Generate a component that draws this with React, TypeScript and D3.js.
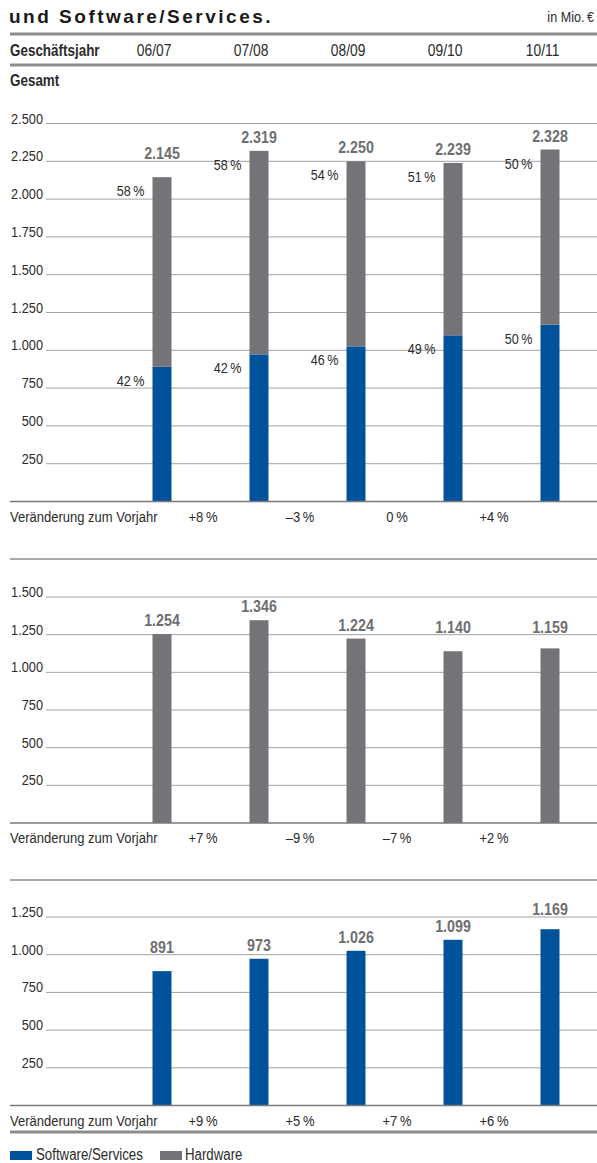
import React from "react";
import * as d3 from "d3";

const years = ["06/07", "07/08", "08/09", "09/10", "10/11"];
const software = [891, 973, 1026, 1099, 1169];
const hardware = [1254, 1346, 1224, 1140, 1159];
const total = [2145, 2319, 2250, 2239, 2328];
const softwarePct = [42, 42, 46, 49, 50];
const hardwarePct = [58, 58, 54, 51, 50];
const changeTotal = ["+8", "–3", "0", "+4"];
const changeHardware = ["+7", "–9", "–7", "+2"];
const changeSoftware = ["+9", "+5", "+7", "+6"];
const ticksTotal = [250, 500, 750, 1000, 1250, 1500, 1750, 2000, 2250, 2500];
const ticksHardware = [250, 500, 750, 1000, 1250, 1500];
const ticksSoftware = [250, 500, 750, 1000, 1250];

const BLUE = "#00529b";
const GREY = "#747378";
const LABEL_GREY = "#6e6e71";
const TEXT = "#2b2b2b";
const GRID = "#a3a3a3";
const RULE = "#8c8c8c";
const SANS = "'Liberation Sans', Arial, sans-serif";
const SQUEEZE = 0.84;

const W = 597;
const H = 1163;
const BAR_W = 19;

const fmt = (v: number) => d3.format(",")(v).replace(/,/g, ".");

const x = d3.scalePoint<string>().domain(years).range([162, 550]);

type NTProps = {
  x: number;
  y: number;
  size: number;
  anchor?: "start" | "middle" | "end";
  bold?: boolean;
  fill?: string;
  children: React.ReactNode;
};

function NText({ x, y, size, anchor = "start", bold = false, fill = TEXT, children }: NTProps) {
  return (
    <text
      transform={`translate(${x},${y}) scale(${SQUEEZE},1)`}
      x={0}
      y={0}
      textAnchor={anchor}
      fontFamily={SANS}
      fontWeight={bold ? "bold" : "normal"}
      fontSize={size}
      fill={fill}
    >
      {children}
    </text>
  );
}

function labelBaseline(barTop: number, gridYs: number[]) {
  let b = barTop - 8;
  for (const g of gridYs) {
    if (g >= b - 11 && g <= b + 1) {
      b = g - 2;
    }
  }
  return b;
}

type PanelProps = {
  top: number;
  base: number;
  max: number;
  ticks: number[];
  segments: { values: number[]; color: string }[];
  totals: number[];
  changes: string[];
  pcts?: { values: number[] }[];
};

function Panel({ top, base, max, ticks, segments, totals, changes, pcts }: PanelProps) {
  const y = d3.scaleLinear().domain([0, max]).range([base, top]);
  const gridYs = ticks.map((t) => y(t));
  return (
    <g>
      {ticks.map((t) => (
        <g key={t}>
          <line x1={46} x2={W} y1={y(t)} y2={y(t)} stroke={GRID} strokeWidth={1} />
          <NText x={43} y={y(t)} size={15.2} anchor="end">
            {fmt(t)}
          </NText>
        </g>
      ))}
      {years.map((yr, i) => {
        let acc = 0;
        return (
          <g key={yr}>
            {segments.map((s, j) => {
              const y0 = y(acc);
              acc += s.values[i];
              const y1 = y(acc);
              return (
                <rect
                  key={j}
                  x={(x(yr) as number) - BAR_W / 2}
                  y={y1}
                  width={BAR_W}
                  height={y0 - y1}
                  fill={s.color}
                />
              );
            })}
          </g>
        );
      })}
      {pcts &&
        years.map((yr, i) => {
          let acc = 0;
          return pcts.map((p, j) => {
            acc += segments[j].values[i];
            const segTop = y(acc);
            return (
              <NText
                key={yr + j}
                x={(x(yr) as number) - BAR_W / 2 - 8}
                y={segTop + 19}
                size={15}
                anchor="end"
              >
                {p.values[i]}
                {"\u2009%"}
              </NText>
            );
          });
        })}
      {years.map((yr, i) => (
        <NText
          key={"t" + yr}
          x={x(yr) as number}
          y={labelBaseline(y(totals[i]), gridYs)}
          size={17}
          anchor="middle"
          bold
          fill={LABEL_GREY}
        >
          {fmt(totals[i])}
        </NText>
      ))}
      <line x1={10} x2={W} y1={base} y2={base} stroke="#7a7a7a" strokeWidth={1.5} />
      <NText x={10} y={base + 20} size={15.5}>
        Veränderung zum Vorjahr
      </NText>
      {changes.map((c, i) => (
        <NText key={"c" + i} x={(x(years[i]) as number) + 41} y={base + 20} size={15.5} anchor="middle">
          {c}
          {"\u2009%"}
        </NText>
      ))}
    </g>
  );
}

export default function App() {
  return (
    <svg
      width={W}
      height={H}
      viewBox={`0 0 ${W} ${H}`}
      style={{ position: "absolute", left: 0, top: 0, background: "#fff" }}
    >
      <rect x={0} y={0} width={W} height={H} fill="#fff" />
      <text x={9} y={23} fontFamily={SANS} fontWeight="bold" fontSize={19} letterSpacing={2.5} fill="#1a1a1a">
        und Software/Services.
      </text>
      <NText x={594} y={22} size={15} anchor="end">
        in Mio.{"\u2009"}€
      </NText>
      <line x1={10} x2={W} y1={34} y2={34} stroke={RULE} strokeWidth={3} />
      <NText x={10} y={56} size={16} bold>
        Geschäftsjahr
      </NText>
      {years.map((yr) => (
        <NText key={yr} x={(x(yr) as number) + BAR_W / 2} y={56} size={16.5} anchor="end">
          {yr}
        </NText>
      ))}
      <line x1={10} x2={W} y1={65} y2={65} stroke={RULE} strokeWidth={3} />
      <NText x={10} y={86} size={16} bold>
        Gesamt
      </NText>

      <Panel
        top={123.5}
        base={501.5}
        max={2500}
        ticks={ticksTotal}
        segments={[
          { values: software, color: BLUE },
          { values: hardware, color: GREY },
        ]}
        totals={total}
        changes={changeTotal}
        pcts={[{ values: softwarePct }, { values: hardwarePct }]}
      />

      <line x1={10} x2={W} y1={559} y2={559} stroke={RULE} strokeWidth={1.5} />
      <Panel
        top={597}
        base={823}
        max={1500}
        ticks={ticksHardware}
        segments={[{ values: hardware, color: GREY }]}
        totals={hardware}
        changes={changeHardware}
      />

      <line x1={10} x2={W} y1={880} y2={880} stroke={RULE} strokeWidth={1.5} />
      <Panel
        top={917}
        base={1105.5}
        max={1250}
        ticks={ticksSoftware}
        segments={[{ values: software, color: BLUE }]}
        totals={software}
        changes={changeSoftware}
      />

      <line x1={10} x2={W} y1={1132} y2={1132} stroke={RULE} strokeWidth={3} />
      <rect x={10} y={1151} width={22} height={9} fill={BLUE} />
      <NText x={36} y={1160} size={15.8}>
        Software/Services
      </NText>
      <rect x={160} y={1151} width={22} height={9} fill={GREY} />
      <NText x={185} y={1160} size={15.8}>
        Hardware
      </NText>
    </svg>
  );
}
